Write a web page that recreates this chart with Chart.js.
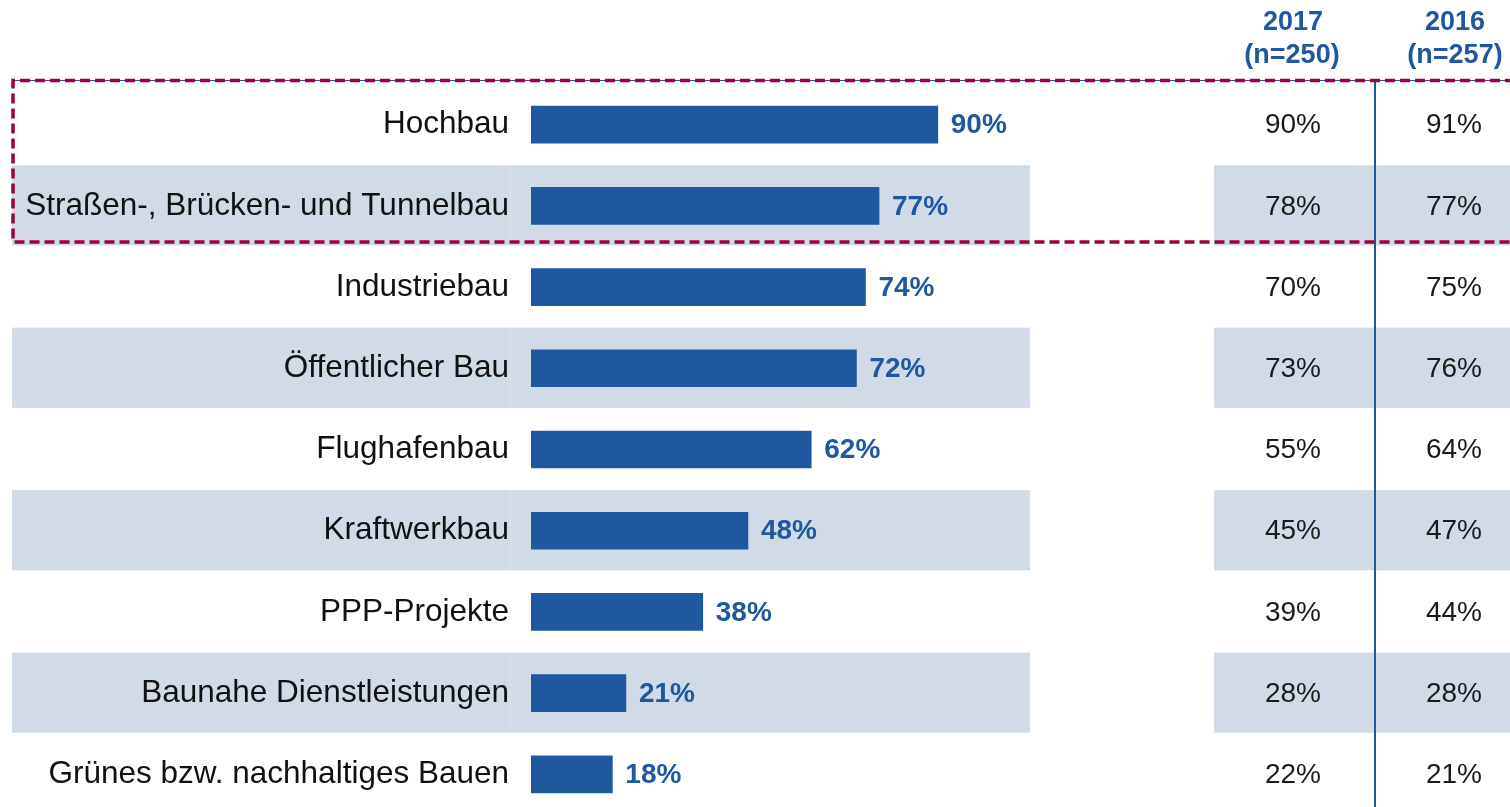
<!DOCTYPE html>
<html>
<head>
<meta charset="utf-8">
<script src="https://cdn.jsdelivr.net/npm/chart.js"></script>
<style>
  html, body { margin: 0; padding: 0; background: #fff; overflow: hidden; }
  canvas { display: block; }
</style>
</head>
<body>
<canvas id="chart" width="1510" height="815"></canvas>
<script>
// Daten
const categories = [
  "Hochbau",
  "Straßen-, Brücken- und Tunnelbau",
  "Industriebau",
  "Öffentlicher Bau",
  "Flughafenbau",
  "Kraftwerkbau",
  "PPP-Projekte",
  "Baunahe Dienstleistungen",
  "Grünes bzw. nachhaltiges Bauen"
];
const values = [90, 77, 74, 72, 62, 48, 38, 21, 18];
const values2017 = [90, 78, 70, 73, 55, 45, 39, 28, 22];
const values2016 = [91, 77, 75, 76, 64, 47, 44, 28, 21];
const headers2017 = ["2017", "(n=250)"];
const headers2016 = ["2016", "(n=257)"];

const BLUE = "#2058a0";
const BAND = "#d1dbe7";
const RED = "#a0003c";
const FONT = "'Liberation Sans', Arial, sans-serif";

// -----------------------------
// Hintergrundstreifen
// -----------------------------
const bandPlugin = {
  id: "bands",
  beforeDraw(chart) {
    const ctx = chart.ctx;
    const y = chart.scales.y;
    const step = y.height / categories.length;
    ctx.save();
    ctx.fillStyle = "#fff";
    ctx.fillRect(0, 0, chart.width, chart.height);
    categories.forEach((c, i) => {
      if (i % 2 === 0) return;
      const cy = y.getPixelForValue(i);
      const top = cy - step / 2;
      ctx.fillStyle = BAND;
      ctx.fillRect(12, top, 1030 - 12, step - 1);
      ctx.fillRect(1214, top, 1510 - 1214, step - 1);
      ctx.fillStyle = "#dbe3ec";
      ctx.fillRect(510, top, 1, step - 1);
    });
    ctx.restore();
  }
};

// -----------------------------
// Werte, Tabelle, Rahmen
// -----------------------------
const overlayPlugin = {
  id: "overlay",
  afterDraw(chart) {
    const ctx = chart.ctx;
    const y = chart.scales.y;
    ctx.save();

    // Werte rechts neben den Balken
    const meta = chart.getDatasetMeta(0);
    ctx.font = "bold 28px " + FONT;
    ctx.fillStyle = BLUE;
    ctx.textAlign = "left";
    ctx.textBaseline = "middle";
    meta.data.forEach((bar, i) => {
      ctx.fillText(values[i] + "%", bar.x + 13, bar.y + 1);
    });

    // Tabellenkopf
    ctx.textAlign = "center";
    ctx.font = "bold 27px " + FONT;
    ctx.fillText(headers2017[0], 1293, 23);
    ctx.fillText(headers2017[1], 1292, 56);
    ctx.fillText(headers2016[0], 1455, 23);
    ctx.fillText(headers2016[1], 1455, 56);

    // Tabellenwerte
    ctx.font = "28px " + FONT;
    ctx.fillStyle = "#1a1a1a";
    categories.forEach((c, i) => {
      const cy = y.getPixelForValue(i) + 1;
      ctx.fillText(values2017[i] + "%", 1293, cy);
      ctx.fillText(values2016[i] + "%", 1454, cy);
    });

    // Trennlinie Tabelle
    ctx.strokeStyle = BLUE;
    ctx.lineWidth = 2;
    ctx.beginPath();
    ctx.moveTo(1375, 80);
    ctx.lineTo(1375, chart.height);
    ctx.stroke();

    ctx.lineWidth = 1;
    ctx.beginPath();
    ctx.moveTo(12, 80.5);
    ctx.lineTo(1510, 80.5);
    ctx.stroke();

    // gestrichelter Rahmen
    ctx.strokeStyle = RED;
    ctx.lineWidth = 3.5;
    ctx.setLineDash([10, 5]);
    ctx.beginPath();
    ctx.moveTo(1515, 80.5);
    ctx.lineTo(13, 80.5);
    ctx.lineTo(13, 242);
    ctx.lineTo(1515, 242);
    ctx.stroke();

    ctx.restore();
  }
};

new Chart(document.getElementById("chart"), {
  type: "bar",
  data: {
    labels: categories,
    datasets: [{
      data: values,
      backgroundColor: BLUE,
      borderWidth: 0,
      barThickness: 37
    }]
  },
  options: {
    indexAxis: "y",
    responsive: false,
    animation: false,
    layout: {
      padding: { top: 84, right: 527, bottom: 0, left: 0 }
    },
    scales: {
      x: {
        min: 0,
        max: 100,
        display: false
      },
      y: {
        grid: { display: false, drawTicks: false },
        border: { display: false },
        afterFit: (scale) => {
          scale.width = 531;
          scale.paddingTop = 0;
          scale.paddingBottom = 0;
        },
        ticks: {
          padding: 22,
          color: "#111",
          font: { family: FONT, size: 31.5 }
        }
      }
    },
    plugins: {
      legend: { display: false },
      tooltip: { enabled: false }
    }
  },
  plugins: [bandPlugin, overlayPlugin]
});
</script>
</body>
</html>
